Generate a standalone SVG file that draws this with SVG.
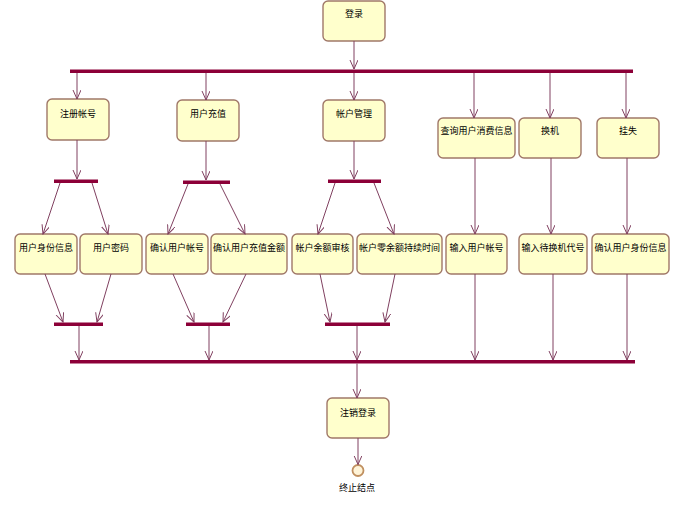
<svg xmlns="http://www.w3.org/2000/svg" width="687" height="521" viewBox="0 0 687 521">
<defs>
<marker id="arr" markerWidth="10" markerHeight="10" refX="9" refY="4" orient="auto" markerUnits="userSpaceOnUse">
<path d="M0,0 L9,4 L0,8" fill="none" stroke="#804060" stroke-width="1"/>
</marker>
<style>
.box{fill:#FFFFCC;stroke:#A07868;stroke-width:1.4}
.bar{fill:#8C0038}
.t{font-family:"Noto Sans CJK SC","Noto Sans",sans-serif;font-size:9px;fill:#000;text-anchor:middle}
.c line{stroke:#804060;stroke-width:1;marker-end:url(#arr)}
</style>
</defs>
<rect width="687" height="521" fill="#fff"/>

<g id="bars">
<rect class="bar" x="70" y="69.5" width="563" height="3.5"/>
<rect class="bar" x="54" y="179.5" width="44" height="3.5"/>
<rect class="bar" x="183" y="180.5" width="47" height="3.5"/>
<rect class="bar" x="328" y="179.5" width="53" height="3.5"/>
<rect class="bar" x="54" y="322.5" width="49" height="3.5"/>
<rect class="bar" x="186" y="322.5" width="44" height="3.5"/>
<rect class="bar" x="325" y="322.5" width="65" height="3.5"/>
<rect class="bar" x="70" y="360" width="565" height="3.5"/>
</g>

<g id="n-login"><rect class="box" x="323" y="1" width="62" height="40" rx="5"/><text class="t" x="354" y="17">登录</text></g>
<g id="n-reg"><rect class="box" x="47" y="99" width="62" height="41" rx="5"/><text class="t" x="78" y="117">注册帐号</text></g>
<g id="n-charge"><rect class="box" x="177" y="100" width="62" height="41" rx="5"/><text class="t" x="208" y="117">用户充值</text></g>
<g id="n-acct"><rect class="box" x="323" y="100" width="62" height="41" rx="5"/><text class="t" x="354" y="117">帐户管理</text></g>
<g id="n-query"><rect class="box" x="438" y="118" width="77" height="40" rx="5"/><text class="t" x="476.5" y="134">查询用户消费信息</text></g>
<g id="n-swap"><rect class="box" x="519" y="118" width="62" height="40" rx="5"/><text class="t" x="550" y="134">换机</text></g>
<g id="n-lost"><rect class="box" x="597" y="118" width="62" height="40" rx="5"/><text class="t" x="628" y="134">挂失</text></g>

<g id="n-idinfo"><rect class="box" x="15" y="234" width="62" height="40" rx="5"/><text class="t" x="46" y="251">用户身份信息</text></g>
<g id="n-pwd"><rect class="box" x="80" y="234" width="62" height="40" rx="5"/><text class="t" x="111" y="251">用户密码</text></g>
<g id="n-confacct"><rect class="box" x="146" y="234" width="62" height="40" rx="5"/><text class="t" x="177" y="251">确认用户帐号</text></g>
<g id="n-confamt"><rect class="box" x="211" y="234" width="76" height="40" rx="5"/><text class="t" x="249" y="251">确认用户充值金额</text></g>
<g id="n-audit"><rect class="box" x="292" y="234" width="61" height="40" rx="5"/><text class="t" x="322.5" y="251">帐户余额审核</text></g>
<g id="n-zero"><rect class="box" x="357" y="234" width="85" height="40" rx="5"/><text class="t" x="399.5" y="251">帐户零余额持续时间</text></g>
<g id="n-inacct"><rect class="box" x="446" y="234" width="61" height="40" rx="5"/><text class="t" x="476.5" y="251">输入用户帐号</text></g>
<g id="n-incode"><rect class="box" x="519" y="234" width="68" height="40" rx="5"/><text class="t" x="553" y="251">输入待换机代号</text></g>
<g id="n-confid"><rect class="box" x="592" y="234" width="77" height="40" rx="5"/><text class="t" x="630.5" y="251">确认用户身份信息</text></g>

<g id="n-logout"><rect class="box" x="327" y="398" width="62" height="40" rx="5"/><text class="t" x="358" y="416">注销登录</text></g>
<g id="n-end"><circle cx="358" cy="470.5" r="5.5" fill="#FFF4D8" stroke="#C09060" stroke-width="1.8"/><text class="t" x="357" y="491">终止结点</text></g>

<g id="connectors" class="c">
<line x1="354" y1="41" x2="354" y2="69"/>
<line x1="77" y1="73" x2="77" y2="99"/>
<line x1="206" y1="73" x2="206" y2="100"/>
<line x1="354" y1="73" x2="354" y2="100"/>
<line x1="474" y1="73" x2="474" y2="118"/>
<line x1="550" y1="73" x2="550" y2="118"/>
<line x1="626" y1="73" x2="626" y2="118"/>

<line x1="77" y1="140" x2="77" y2="179"/>
<line x1="206" y1="141" x2="206" y2="180"/>
<line x1="354" y1="141" x2="354" y2="179"/>

<line x1="60" y1="183" x2="43" y2="234"/>
<line x1="92" y1="183" x2="108" y2="234"/>
<line x1="188" y1="184" x2="168" y2="234"/>
<line x1="220" y1="184" x2="245" y2="234"/>
<line x1="335" y1="183" x2="318" y2="234"/>
<line x1="374" y1="183" x2="394" y2="234"/>

<line x1="475" y1="158" x2="475" y2="234"/>
<line x1="551" y1="158" x2="551" y2="234"/>
<line x1="627" y1="158" x2="627" y2="234"/>

<line x1="45" y1="274" x2="63" y2="322"/>
<line x1="111" y1="274" x2="97" y2="322"/>
<line x1="173" y1="274" x2="194" y2="322"/>
<line x1="246" y1="274" x2="223" y2="322"/>
<line x1="320" y1="274" x2="330" y2="322"/>
<line x1="395" y1="274" x2="385" y2="322"/>

<line x1="475" y1="274" x2="475" y2="360"/>
<line x1="553" y1="274" x2="553" y2="360"/>
<line x1="627" y1="274" x2="627" y2="360"/>

<line x1="79" y1="326" x2="79" y2="360"/>
<line x1="209" y1="326" x2="209" y2="360"/>
<line x1="357" y1="326" x2="357" y2="360"/>

<line x1="357" y1="363.5" x2="357" y2="398"/>
<line x1="358" y1="438" x2="358" y2="464.5"/>
</g>
</svg>
